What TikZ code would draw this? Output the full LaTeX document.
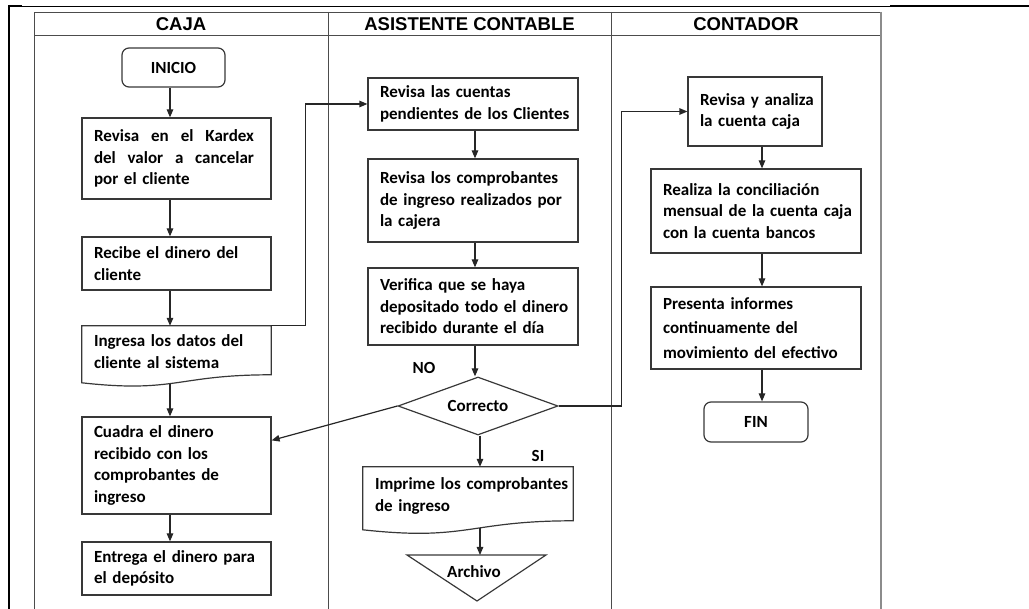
\documentclass[tikz,border=0pt]{standalone}
\usepackage{fontspec}
\setmainfont{Carlito}
\newfontfamily\hdrfont{Liberation Sans}
\usetikzlibrary{arrows.meta,calc,shapes.geometric}
\newcommand{\oneline}[1]{\mbox{#1}}
\newcommand{\spreadline}[1]{\leavevmode\hbox to 160pt{#1}}
\begin{document}
\begin{tikzpicture}[x=1pt,y=-1pt,
  frame/.style={draw=black!70, line width=0.9pt},
  boxline/.style={draw=black!78, line width=1.2pt},
  txt/.style={font=\fontsize{17pt}{21.5pt}\selectfont\bfseries},
  box/.style={boxline, txt, rectangle, align=left, inner xsep=12pt, inner ysep=0pt},
  doc/.style={txt, rectangle, align=left, inner xsep=12pt, inner ysep=0pt},
  term/.style={boxline, txt, rectangle, rounded corners=7pt, align=center, inner sep=0pt},
  dia/.style={boxline, txt, diamond, aspect=2.76, minimum width=160pt, minimum height=58pt, inner sep=0pt},
  lbl/.style={txt, inner sep=0pt},
  hdr/.style={font=\hdrfont\fontsize{18.5pt}{22pt}\selectfont\bfseries, inner sep=0pt},
  arr/.style={draw=black!85, line width=1.2pt, -{Triangle[length=8pt,width=6.5pt]}},
]
\useasboundingbox (0,0) rectangle (1029,609);

% page frame fragments
\draw[line width=2.5pt] (9,5) -- (9,609);
\draw[line width=2.3pt] (8,6) -- (22,6);
\draw[line width=0.9pt] (22,6) -- (890,6);
\draw[line width=2.3pt] (890,6) -- (1029,6);

% swimlane table
\draw[frame] (34,609) -- (34,12) -- (881,12);
\draw[frame] (34,35) -- (881,35);
\draw[frame] (328,12) -- (328,609);
\draw[frame] (611,12) -- (611,609);
\draw[draw=black!45, line width=1.5pt] (881,12) -- (881,609);

\node[hdr] (h1) at (181,24) {CAJA};
\node[hdr] (h2) at (469.5,24) {ASISTENTE CONTABLE};
\node[hdr] (h3) at (746,24) {CONTADOR};

% axes for vertical arrows
\coordinate (axA) at (170,0);
\coordinate (axB) at (475,0);
\coordinate (axC) at (480,0);
\coordinate (axD) at (762,0);

% CAJA
\node[term, minimum width=103pt, minimum height=39pt] (ini) at (173.5,67.5) {INICIO};
\node[box, minimum width=189pt, minimum height=81pt, text width=165pt] (kar) at (176.5,158.5)
  {\spreadline{Revisa\hfill en\hfill el\hfill Kardex}\\\spreadline{del\hfill valor\hfill a\hfill cancelar}\\por el cliente};
\node[box, minimum width=189pt, minimum height=53pt, text width=165pt] (rec) at (176.5,263.5)
  {Recibe el dinero del\\cliente};
\node[doc, minimum width=189pt, minimum height=51pt, text width=165pt] (ing) at (176.5,351.5)
  {Ingresa los datos del\\cliente al sistema};
\draw[boxline] (ing.north west) -- (ing.north east) -- ($(ing.north east)+(0,49)$)
  .. controls ($(ing.north)+(0,49)$) and ($(ing.north)+(0,67.5)$) .. ($(ing.north west)+(0,57)$) -- cycle;
\coordinate (ingB) at ($(ing.north)+(0,58)$);
\node[box, minimum width=189pt, minimum height=97pt, text width=165pt] (cua) at (176.5,465.5)
  {Cuadra el dinero\\recibido con los\\comprobantes de\\ingreso};
\node[box, minimum width=189pt, minimum height=53pt, text width=165pt] (ent) at (176.5,568.5)
  {Entrega el dinero para\\el dep\'osito};

% ASISTENTE CONTABLE
\node[box, minimum width=210pt, minimum height=52pt, text width=186pt] (rcu) at (473,104)
  {Revisa las cuentas\\\oneline{pendientes de los Clientes}};
\node[box, minimum width=210pt, minimum height=83pt, text width=186pt] (rco) at (473,200.5)
  {\oneline{Revisa los comprobantes}\\\oneline{de ingreso realizados por}\\la cajera};
\node[box, minimum width=210pt, minimum height=77pt, text width=186pt] (ver) at (473,306.5)
  {Verifica que se haya\\\oneline{depositado todo el dinero}\\\oneline{recibido durante el d\'ia}};
\node[dia] (dec) at (478,406) {Correcto};
\node[lbl] (no) at (424,368) {NO};
\node[lbl] (si) at (538,456) {SI};
\node[doc, minimum width=210pt, minimum height=58pt, text width=186pt] (imp) at (468,496)
  {\oneline{Imprime los comprobantes}\\de ingreso};
\draw[boxline] (imp.north west) -- (imp.north east) -- ($(imp.north east)+(0,54)$)
  .. controls ($(imp.north)+(0,54)$) and ($(imp.north)+(0,74.5)$) .. ($(imp.north west)+(0,63)$) -- cycle;
\coordinate (impB) at (480,528);
\node[lbl] (arc) at (474,572) {Archivo};
\draw[boxline] ($(arc)+(-67,-17)$) -- ($(arc)+(72,-17)$) -- ($(arc)+(3,29)$) -- cycle;
\coordinate (arcT) at (480,555);

% CONTADOR
\node[box, minimum width=134pt, minimum height=69pt, text width=110pt] (rya) at (755,111.5)
  {\oneline{Revisa y analiza}\\\oneline{la cuenta caja}\par\vspace*{14pt}};
\node[box, minimum width=210pt, minimum height=84pt, text width=186pt] (rea) at (756,211)
  {Realiza la conciliaci\'on\\\oneline{mensual de la cuenta caja}\\con la cuenta bancos};
\node[box, minimum width=210pt, minimum height=82pt, text width=186pt,
      font=\fontsize{17pt}{24.5pt}\selectfont\bfseries] (pre) at (756,328)
  {Presenta informes\\continuamente del\\\oneline{movimiento del efectivo}};
\node[term, minimum width=104pt, minimum height=40pt] (fin) at (756,422) {FIN};

% connectors
\draw[arr] (ini.south -| axA) -- (kar.north -| axA);
\draw[arr] (kar.south -| axA) -- (rec.north -| axA);
\draw[arr] (rec.south -| axA) -- (ing.north -| axA);
\draw[arr] (ingB -| axA) -- (cua.north -| axA);
\draw[arr] (cua.south -| axA) -- (ent.north -| axA);
\draw[arr] (ing.north east) -- ++(34,0) |- (rcu.west);
\draw[arr] (rcu.south -| axB) -- (rco.north -| axB);
\draw[arr] (rco.south -| axB) -- (ver.north -| axB);
\draw[arr] (ver.south -| axB) -- (dec.north -| axB);
\draw[arr] (dec.west) -- ($(cua.north east)+(0,24)$);
\draw[arr] (dec.south -| axC) -- (imp.north -| axC);
\draw[arr] (impB) -- (arcT);
\draw[arr] (dec.east) -- ++(63,0) |- (rya.west);
\draw[arr] (rya.south -| axD) -- (rea.north -| axD);
\draw[arr] (rea.south -| axD) -- (pre.north -| axD);
\draw[arr] (pre.south -| axD) -- (fin.north -| axD);
\end{tikzpicture}
\end{document}
